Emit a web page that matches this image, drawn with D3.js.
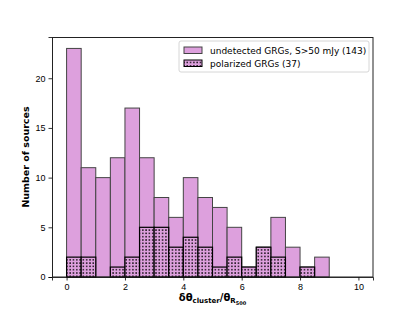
<!DOCTYPE html>
<html lang="en">
<head>
<meta charset="utf-8">
<title>GRG histogram</title>
<style>
    body { margin: 0; background: #fff; }
    svg { display: block; font-family: "DejaVu Sans", sans-serif; }
    .axis path, .axis line { stroke: #000; stroke-width: 0.8px; }
    .axis text { font-size: 9px; fill: #000; }
</style>
</head>
<body>
<svg width="415" height="311"></svg>
<script src="https://cdn.jsdelivr.net/npm/d3@7"></script>
<script>
    // bin edges (width 0.5) and counts
    const binStart = [0, 0.5, 1, 1.5, 2, 2.5, 3, 3.5, 4, 4.5, 5, 5.5, 6, 6.5, 7, 7.5, 8, 8.5];
    const undetected = [23, 11, 10, 12, 17, 12, 8, 6, 10, 8, 7, 5, 1, 3, 6, 3, 1, 2];
    const polarized = [2, 2, 0, 1, 2, 5, 5, 3, 4, 3, 1, 2, 1, 3, 2, 0, 1, 0];
    const binWidth = 0.5;
    const xTicks = [0, 2, 4, 6, 8, 10];
    const yTicks = [0, 5, 10, 15, 20];
    const legendLabels = ["undetected GRGs, S>50 mJy (143)", "polarized GRGs (37)"];

    const margin = {top: 37, right: 42, bottom: 34, left: 52};
    const width = 415 - margin.left - margin.right,
        height = 311 - margin.top - margin.bottom;

    const svg = d3.select("svg");

    // dotted hatch for polarized bars
    const defs = svg.append("defs");
    const pat = defs.append("pattern")
        .attr("id", "dots")
        .attr("patternUnits", "userSpaceOnUse")
        .attr("width", 3.3)
        .attr("height", 3.3);
    pat.append("rect").attr("width", 3.3).attr("height", 3.3).attr("fill", "plum");
    pat.append("rect").attr("x", 1).attr("y", 1).attr("width", 1.4).attr("height", 1.4).attr("fill", "#000");

    const g = svg.append("g")
        .attr("transform", "translate(" + margin.left + "," + margin.top + ")");

    const x = d3.scaleLinear().domain([-0.5, 10.5]).range([0, width]);
    const y = d3.scaleLinear().domain([0, d3.max(undetected) * 1.05]).range([height, 0]);

    // undetected bars
    g.selectAll(".bar-u")
        .data(binStart)
        .enter()
        .append("rect")
        .attr("class", "bar-u")
        .attr("x", d => x(d))
        .attr("width", d => x(d + binWidth) - x(d))
        .attr("y", (d, i) => y(undetected[i]))
        .attr("height", (d, i) => y(0) - y(undetected[i]))
        .attr("fill", "plum")
        .attr("stroke", "#444")
        .attr("stroke-width", 1);

    // polarized bars
    g.selectAll(".bar-p")
        .data(binStart.filter((d, i) => polarized[i] > 0))
        .enter()
        .append("rect")
        .attr("class", "bar-p")
        .attr("x", d => x(d))
        .attr("width", d => x(d + binWidth) - x(d))
        .attr("y", d => y(polarized[binStart.indexOf(d)]))
        .attr("height", d => y(0) - y(polarized[binStart.indexOf(d)]))
        .attr("fill", "url(#dots)")
        .attr("stroke", "#000")
        .attr("stroke-width", 1.2);

    // axes
    g.append("g")
        .attr("class", "axis")
        .attr("transform", "translate(0," + height + ")")
        .call(d3.axisBottom(x).tickValues(xTicks).tickSize(3.5).tickPadding(3));
    g.append("g")
        .attr("class", "axis")
        .call(d3.axisLeft(y).tickValues(yTicks).tickSize(3.5).tickPadding(3));

    // frame
    g.append("rect")
        .attr("x", 0.5)
        .attr("y", 0.5)
        .attr("width", width - 0.5)
        .attr("height", height - 0.5)
        .attr("fill", "none")
        .attr("stroke", "#222")
        .attr("stroke-width", 1);

    // axis labels
    const xl = svg.append("text")
        .attr("x", margin.left + width / 2)
        .attr("y", 301)
        .attr("text-anchor", "middle")
        .attr("font-weight", "bold")
        .attr("font-size", 10);
    xl.append("tspan").text("δθ");
    xl.append("tspan").attr("font-size", 7).attr("dy", 2).text("cluster");
    xl.append("tspan").attr("dy", -2).text("/θ");
    xl.append("tspan").attr("font-size", 7).attr("dy", 2).text("R");
    xl.append("tspan").attr("font-size", 5).attr("dy", 1.5).text("500");

    svg.append("text")
        .attr("transform", "translate(29," + (margin.top + height / 2) + ") rotate(-90)")
        .attr("text-anchor", "middle")
        .attr("font-weight", "bold")
        .attr("font-size", 9.5)
        .text("Number of sources");

    // legend
    const lg = svg.append("g").attr("transform", "translate(179,41)");
    lg.append("rect")
        .attr("width", 190)
        .attr("height", 31)
        .attr("rx", 2)
        .attr("fill", "#fff")
        .attr("fill-opacity", 0.8)
        .attr("stroke", "#ccc")
        .attr("stroke-width", 0.8);
    const fills = ["plum", "url(#dots)"];
    const strokes = ["#444", "#000"];
    legendLabels.forEach((t, i) => {
        lg.append("rect")
            .attr("x", 5)
            .attr("y", 6 + i * 13)
            .attr("width", 18)
            .attr("height", 6.5)
            .attr("fill", fills[i])
            .attr("stroke", strokes[i])
            .attr("stroke-width", 1);
        lg.append("text")
            .attr("x", 31)
            .attr("y", 12.5 + i * 13)
            .attr("font-size", 9)
            .text(t);
    });
</script>
</body>
</html>
